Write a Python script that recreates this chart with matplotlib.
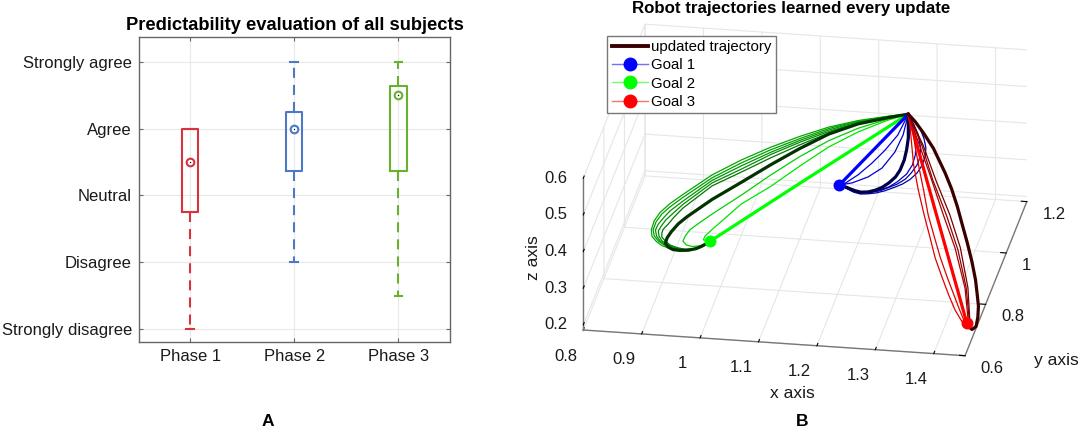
import matplotlib
matplotlib.use('Agg')
import matplotlib.pyplot as plt
from matplotlib.lines import Line2D
from mpl_toolkits.mplot3d import proj3d

plt.rcParams['font.family'] = ['Liberation Sans', 'DejaVu Sans']

# ---- panel A: boxplot values
phases = ['Phase 1', 'Phase 2', 'Phase 3']
likert = ['Strongly disagree', 'Disagree', 'Neutral', 'Agree', 'Strongly agree']
whisker_low = [1, 2, 1.5]
q1 = [2.75, 3.37, 3.37]
medians = [3.5, 4, 4.5]
q3 = [4, 4.25, 4.63]
whisker_high = [4, 5, 5]
box_colors = ['#d8323c', '#4c78c8', '#68b02e']

# ---- panel B: trajectories
# depth can't be read from a flat picture so they all sit in the plane y = 1
plane_y = 1.0
start = (1.286, 0.547)
goal1 = (1.168, 0.341)
goal2 = (0.947, 0.164)
goal3 = (1.386, -0.012)

green_x = [1.25, 1.20, 1.15, 1.10, 1.05, 1.00, 0.95, 0.90]
g0_x = green_x + [0.878, 0.861, 0.851, 0.846, 0.847, 0.854, 0.864, 0.878, 0.895, 0.912, 0.930]
g0_z = [0.537, 0.520, 0.497, 0.466, 0.431, 0.391, 0.345, 0.286,
        0.259, 0.233, 0.209, 0.184, 0.167, 0.154, 0.143, 0.136, 0.132, 0.135, 0.144]
g1_x = green_x + [0.878, 0.864, 0.854, 0.849, 0.851, 0.858, 0.868, 0.880, 0.897, 0.914, 0.931]
g1_z = [0.536, 0.519, 0.493, 0.460, 0.424, 0.383, 0.337, 0.278,
        0.250, 0.229, 0.206, 0.184, 0.168, 0.155, 0.145, 0.137, 0.134, 0.137, 0.146]
g2_x = green_x + [0.878, 0.868, 0.858, 0.853, 0.855, 0.861, 0.871, 0.883, 0.899, 0.916, 0.933]
g2_z = [0.536, 0.517, 0.489, 0.455, 0.417, 0.375, 0.330, 0.268,
        0.239, 0.221, 0.201, 0.184, 0.168, 0.155, 0.145, 0.138, 0.135, 0.138, 0.147]
g3_x = green_x + [0.882, 0.871, 0.863, 0.858, 0.859, 0.864, 0.875, 0.887, 0.900, 0.918, 0.933]
g3_z = [0.535, 0.515, 0.485, 0.450, 0.411, 0.366, 0.323, 0.259,
        0.231, 0.214, 0.196, 0.182, 0.169, 0.156, 0.146, 0.139, 0.136, 0.139, 0.148]
g4_x = green_x + [0.885, 0.875, 0.866, 0.864, 0.864, 0.870, 0.878, 0.890, 0.904, 0.919, 0.933]
g4_z = [0.534, 0.514, 0.481, 0.443, 0.402, 0.358, 0.315, 0.249,
        0.223, 0.203, 0.187, 0.177, 0.166, 0.156, 0.146, 0.140, 0.137, 0.140, 0.148]
g_dark_x = green_x[:7] + [0.907, 0.892, 0.880, 0.873, 0.870, 0.875, 0.883, 0.895, 0.909, 0.923, 0.935]
g_dark_z = [0.533, 0.511, 0.478, 0.433, 0.383, 0.330, 0.278,
            0.226, 0.205, 0.182, 0.165, 0.150, 0.140, 0.134, 0.133, 0.135, 0.141, 0.151]
g6_x = green_x[:7] + [0.930, 0.912, 0.904, 0.900, 0.906, 0.916, 0.930]
g6_z = [0.529, 0.499, 0.460, 0.411, 0.355, 0.295, 0.238, 0.214, 0.191, 0.173, 0.159, 0.149, 0.146, 0.149]
g7_x = green_x[:7] + [0.938, 0.935]
g7_z = [0.526, 0.489, 0.443, 0.385, 0.324, 0.271, 0.196, 0.177, 0.166]
g_line_x = [1.116]
g_line_z = [0.356]

b0_x = [1.298, 1.307, 1.313, 1.316, 1.315, 1.310, 1.301, 1.289, 1.276, 1.260, 1.245, 1.231, 1.217, 1.204, 1.192, 1.180]
b0_z = [0.530, 0.506, 0.482, 0.458, 0.436, 0.411, 0.388, 0.369, 0.355, 0.343, 0.333, 0.326, 0.322, 0.320, 0.324, 0.333]
b1_x = [1.296, 1.303, 1.307, 1.306, 1.301, 1.291, 1.281, 1.267, 1.255, 1.238, 1.221, 1.204, 1.190, 1.180]
b1_z = [0.518, 0.492, 0.457, 0.432, 0.410, 0.387, 0.369, 0.354, 0.345, 0.333, 0.326, 0.323, 0.327, 0.334]
b2_x = [1.291, 1.296, 1.299, 1.298, 1.293, 1.283, 1.267, 1.252, 1.235, 1.217, 1.200, 1.188, 1.180]
b2_z = [0.518, 0.491, 0.464, 0.437, 0.409, 0.383, 0.360, 0.344, 0.333, 0.326, 0.324, 0.328, 0.334]
b_dark_x = [1.286, 1.286, 1.283, 1.279, 1.272, 1.264, 1.253, 1.241, 1.229, 1.217, 1.205, 1.195, 1.187, 1.178]
b_dark_z = [0.517, 0.482, 0.449, 0.421, 0.393, 0.373, 0.356, 0.342, 0.333, 0.327, 0.325, 0.328, 0.332, 0.337]
b3_x = [1.277, 1.263, 1.241, 1.217, 1.190]
b3_z = [0.489, 0.441, 0.395, 0.368, 0.349]
b4_x = [1.268, 1.246, 1.224, 1.200, 1.178]
b4_z = [0.488, 0.444, 0.407, 0.372, 0.347]
b_line_x = [1.227]
b_line_z = [0.444]

r0_x = [1.288, 1.291, 1.295, 1.303, 1.313, 1.322, 1.332, 1.343, 1.355, 1.366, 1.378]
r0_z = [0.531, 0.477, 0.409, 0.342, 0.275, 0.221, 0.159, 0.111, 0.061, 0.021, -0.010]
r1_x = [1.293, 1.298, 1.305, 1.312, 1.320, 1.331, 1.341, 1.353, 1.364, 1.373, 1.381]
r1_z = [0.504, 0.456, 0.397, 0.343, 0.275, 0.214, 0.160, 0.107, 0.062, 0.025, -0.005]
r2_x = [1.303, 1.323, 1.346, 1.366, 1.383, 1.388]
r2_z = [0.473, 0.385, 0.278, 0.190, 0.083, 0.002]
r3_x = [1.309, 1.328, 1.351, 1.371, 1.385, 1.390]
r3_z = [0.465, 0.371, 0.279, 0.185, 0.084, 0.002]
r4_x = [1.311, 1.334, 1.357, 1.375, 1.388, 1.391]
r4_z = [0.466, 0.368, 0.280, 0.192, 0.084, 0.002]
r_dark_x = [1.298, 1.312, 1.329, 1.349, 1.360, 1.370, 1.378, 1.387, 1.395, 1.401, 1.404, 1.406, 1.405, 1.402, 1.395, 1.389]
r_dark_z = [0.527, 0.498, 0.458, 0.393, 0.351, 0.303, 0.257, 0.206, 0.155, 0.107, 0.066, 0.036, 0.006, -0.020, -0.029, -0.022]
r_line_x = [1.336]
r_line_z = [0.267]

thin = 0.9
thick = 2.3
green_curves = [
    (g_line_x, g_line_z, '#00ff00', thick), (g7_x, g7_z, '#00e600', thin), (g6_x, g6_z, '#00d000', thin),
    (g4_x, g4_z, '#007800', thin), (g3_x, g3_z, '#008c00', thin), (g2_x, g2_z, '#009600', thin),
    (g1_x, g1_z, '#00a000', thin), (g0_x, g0_z, '#00aa00', thin), (g_dark_x, g_dark_z, '#003300', thick),
]
blue_curves = [
    (b_line_x, b_line_z, '#0000ff', thick), (b4_x, b4_z, '#0000e0', thin), (b3_x, b3_z, '#0000d0', thin),
    (b2_x, b2_z, '#0000c0', thin), (b1_x, b1_z, '#0000b0', thin), (b0_x, b0_z, '#0000a8', thin),
    (b_dark_x, b_dark_z, '#00004a', thick),
]
red_curves = [
    (r_line_x, r_line_z, '#ff0000', thick), (r0_x, r0_z, '#e00000', thin), (r1_x, r1_z, '#e00000', thin),
    (r2_x, r2_z, '#a80000', thin), (r3_x, r3_z, '#900000', thin), (r4_x, r4_z, '#780000', thin),
    (r_dark_x, r_dark_z, '#3a0000', thick),
]

x_ticks = [0.8, 0.9, 1.0, 1.1, 1.2, 1.3, 1.4]
x_labels = ['0.8', '0.9', '1', '1.1', '1.2', '1.3', '1.4']
y_ticks = [0.6, 0.8, 1.0, 1.2]
y_labels = ['0.6', '0.8', '1', '1.2']
z_ticks = [0.2, 0.3, 0.4, 0.5, 0.6]
z_labels = ['0.2', '0.3', '0.4', '0.5', '0.6']

fig = plt.figure(figsize=(10.84, 4.38), dpi=100)

# ---- panel A
ax = fig.add_axes([138.7 / 1084, 1 - 342.3 / 438, 311.3 / 1084, 305 / 438])
for i in range(3):
    stats = [dict(whislo=whisker_low[i], q1=q1[i], med=medians[i], q3=q3[i], whishi=whisker_high[i])]
    ax.bxp(stats, positions=[i + 1], widths=0.155, capwidths=0.074, showfliers=False, manage_ticks=False,
           boxprops=dict(color=box_colors[i], linewidth=1.5), capprops=dict(color=box_colors[i], linewidth=1.5),
           whiskerprops=dict(color=box_colors[i], linewidth=1.5, linestyle=(0, (4.8, 3.4))),
           medianprops=dict(visible=False))
    ax.plot(i + 1, medians[i], 'o', ms=5.5, mfc='white', mec=box_colors[i], mew=1.5)
    ax.plot(i + 1, medians[i], 'o', ms=1, color='black', mew=0)
ax.set_xlim(0.505, 3.495)
ax.set_ylim(0.805, 5.365)
ax.set_xticks([1, 2, 3], phases)
ax.set_yticks([1, 2, 3, 4, 5], likert)
ax.grid(color='#e8e8e8', linewidth=0.8)
ax.set_axisbelow(True)
ax.tick_params(direction='in', top=True, right=True, length=3, width=0.8, color='#666666',
               labelsize=12, labelcolor='#1a1a1a', pad=5)
for s in ax.spines.values():
    s.set_color('#666666')
    s.set_linewidth(1.0)
fig.text(294.7 / 1084, 1 - 25.7 / 438, 'Predictability evaluation of all subjects', fontsize=13.2,
         fontweight='bold', ha='center', va='center')
fig.text(267.7 / 1084, 1 - 421.7 / 438, 'A', fontsize=12.5, fontweight='bold', ha='center', va='center')

# ---- panel B
ax3 = fig.add_axes([0.4815, -0.0800, 0.5086, 1.2587], projection='3d', proj_type='ortho')
ax3.patch.set_alpha(0)
ax3.computed_zorder = False
ax3.set_xlim(0.8, 1.4536)
ax3.set_ylim(0.6, 1.2)
ax3.set_zlim(0.186, 0.6)
ax3.view_init(elev=24.2, azim=-80.67)
ax3.set_box_aspect((386.8, 380.9, 166.3))
ax3.set_xticks(x_ticks)
ax3.set_yticks(y_ticks)
ax3.set_zticks(z_ticks)
ax3.zaxis.set_ticks_position('lower')
for a in (ax3.xaxis, ax3.yaxis, ax3.zaxis):
    a.set_tick_params(label1On=False, label2On=False)
    a.pane.set_facecolor((1, 1, 1, 0))
    a.pane.set_edgecolor((1, 1, 1, 0))
    a.line.set_color('#777777')
    a.line.set_linewidth(1.0)
    a._axinfo['grid'].update(color='#e6e6e6', linewidth=0.8)
    a._axinfo['tick'].update(inward_factor=0.0, outward_factor=0.18, color='#777777',
                             linewidth={True: 0.8, False: 0.5})


def label3d(x, y, z, s, ha):
    # project by hand so the label is a plain 2D text on the 3D axes
    px, py, _ = proj3d.proj_transform(x, y, z, ax3.get_proj())
    ax3.text2D(px, py, s, transform=ax3.transData, fontsize=12, ha=ha, va='center', color='#1a1a1a')


# mplot3d puts its own tick labels too close, these are offset along the box edges
for t, label in zip(x_ticks, x_labels):
    label3d(t - 0.0118, 0.6 - 0.1031, 0.186, label, 'center')
for t, label in zip(y_ticks, y_labels):
    label3d(1.4536 + 0.0342, t - 0.0435, 0.186, label, 'left')
for t, label in zip(z_ticks, z_labels):
    label3d(0.8 - 0.0267, 0.6 - 0.0041, t, label, 'right')

for goal, curves in ((goal2, green_curves), (goal1, blue_curves), (goal3, red_curves)):
    for cx, cz, color, width in curves:
        xs = [start[0]] + cx + [goal[0]]
        zs = [start[1]] + cz + [goal[1]]
        ax3.plot(xs, [plane_y] * len(xs), zs, color=color, linewidth=width, solid_capstyle='round')
for goal, color in ((goal1, '#0000ff'), (goal2, '#00ff00'), (goal3, '#ff0000')):
    ax3.plot([goal[0]], [plane_y], [goal[1]], 'o', color=color, ms=8.6, mew=0)

handles = [
    Line2D([], [], color='#3a0000', linewidth=2.8),
    Line2D([], [], color='#7070ff', linewidth=1, marker='o', mfc='#0000ff', mec='#0000ff', ms=9),
    Line2D([], [], color='#70ff70', linewidth=1, marker='o', mfc='#00ff00', mec='#00ff00', ms=9),
    Line2D([], [], color='#ff7070', linewidth=1, marker='o', mfc='#ff0000', mec='#ff0000', ms=9),
]
fig.legend(handles, ['updated trajectory', 'Goal 1', 'Goal 2', 'Goal 3'], loc='upper left',
           bbox_to_anchor=(607 / 1084, 1 - 35.7 / 438), borderaxespad=0, fontsize=10.8, fancybox=False,
           framealpha=1, edgecolor='#777777', handlelength=2.4, handletextpad=0.25, labelspacing=0.28,
           borderpad=0.3)

fig.text(791.5 / 1084, 1 - 9 / 438, 'Robot trajectories learned every update', fontsize=12.2, fontweight='bold',
         ha='center', va='center')
fig.text(792.7 / 1084, 1 - 393 / 438, 'x axis', fontsize=12.5, ha='center', va='center', color='#1a1a1a')
fig.text(1056.7 / 1084, 1 - 361 / 438, 'y axis', fontsize=12.5, ha='center', va='center', color='#1a1a1a')
fig.text(533 / 1084, 1 - 258 / 438, 'z axis', fontsize=12.5, rotation=90, ha='center', va='center', color='#1a1a1a')
fig.text(802.4 / 1084, 1 - 421.7 / 438, 'B', fontsize=12.5, fontweight='bold', ha='center', va='center')

fig.savefig('out.png', dpi=100)
